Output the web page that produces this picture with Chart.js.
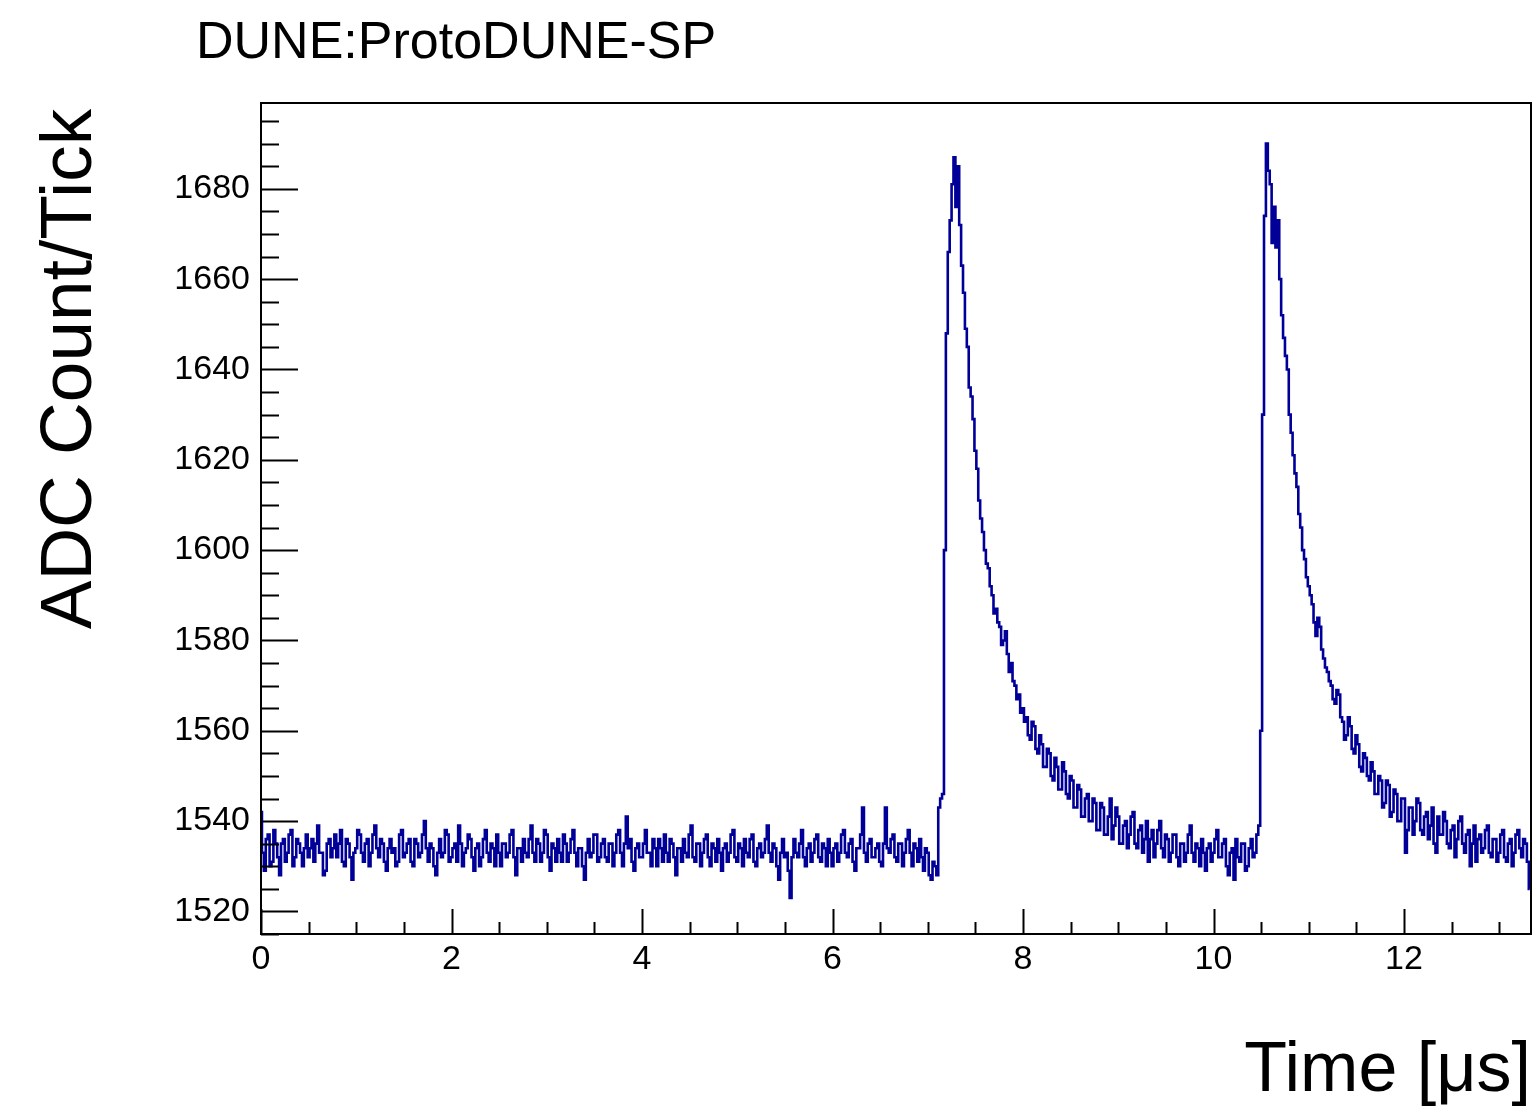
<!DOCTYPE html>
<html>
<head>
<meta charset="utf-8">
<title>ProtoDUNE-SP waveform</title>
<script src="https://cdn.jsdelivr.net/npm/chart.js@4.4.1/dist/chart.umd.min.js"></script>
<style>
  html, body { margin: 0; padding: 0; background: #fff; }
  canvas { display: block; }
</style>
</head>
<body>
<canvas id="wave" width="1533" height="1110"></canvas>
<script>
// sample period of the waveform (microseconds)
const sampleStep = 0.02;

const adcCounts = [
  1542, 1533, 1529, 1536, 1537, 1530, 1531, 1538, 1535, 1532, 1528, 1535, 1536, 1531, 1533, 1537, 1538, 1530, 1532, 1536,
  1535, 1533, 1530, 1534, 1537, 1532, 1534, 1536, 1531, 1535, 1539, 1533, 1533, 1528, 1529, 1535, 1536, 1532, 1534, 1537,
  1532, 1535, 1538, 1531, 1530, 1536, 1535, 1532, 1527, 1533, 1534, 1538, 1537, 1533, 1531, 1535, 1536, 1530, 1533, 1537,
  1539, 1534, 1532, 1536, 1535, 1531, 1529, 1534, 1536, 1533, 1534, 1530, 1531, 1537, 1538, 1532, 1533, 1535, 1536, 1531,
  1530, 1536, 1535, 1532, 1533, 1537, 1540, 1534, 1531, 1535, 1534, 1530, 1528, 1533, 1536, 1532, 1533, 1538, 1537, 1531,
  1532, 1534, 1535, 1531, 1539, 1535, 1530, 1533, 1534, 1537, 1536, 1532, 1529, 1534, 1535, 1530, 1532, 1536, 1538, 1533,
  1531, 1535, 1534, 1530, 1537, 1533, 1530, 1535, 1535, 1532, 1533, 1537, 1538, 1532, 1528, 1534, 1534, 1531, 1536, 1533,
  1532, 1536, 1539, 1533, 1531, 1536, 1535, 1531, 1533, 1538, 1537, 1532, 1529, 1535, 1534, 1531, 1536, 1533, 1531, 1537,
  1535, 1531, 1533, 1536, 1538, 1533, 1530, 1534, 1534, 1530, 1527, 1533, 1536, 1532, 1533, 1537, 1537, 1531, 1532, 1535,
  1536, 1532, 1531, 1535, 1535, 1530, 1533, 1537, 1538, 1533, 1530, 1535, 1541, 1534, 1536, 1531, 1529, 1534, 1535, 1532,
  1532, 1535, 1538, 1533, 1533, 1530, 1536, 1534, 1530, 1536, 1534, 1531, 1537, 1533, 1531, 1536, 1535, 1532, 1528, 1534,
  1534, 1531, 1536, 1533, 1532, 1537, 1539, 1532, 1531, 1535, 1535, 1530, 1533, 1536, 1537, 1532, 1530, 1535, 1534, 1531,
  1536, 1533, 1529, 1534, 1535, 1531, 1533, 1537, 1538, 1532, 1531, 1535, 1534, 1530, 1536, 1533, 1532, 1536, 1537, 1531,
  1530, 1534, 1535, 1532, 1533, 1536, 1539, 1533, 1531, 1535, 1534, 1530, 1527, 1533, 1536, 1532, 1533, 1529, 1523, 1532,
  1536, 1533, 1532, 1535, 1538, 1532, 1530, 1534, 1535, 1531, 1533, 1536, 1537, 1532, 1531, 1535, 1534, 1530, 1536, 1533,
  1530, 1534, 1535, 1531, 1533, 1537, 1538, 1533, 1532, 1535, 1536, 1531, 1529, 1534, 1534, 1537, 1543, 1533, 1531, 1535,
  1536, 1532, 1532, 1534, 1535, 1531, 1530, 1535, 1543, 1534, 1533, 1536, 1537, 1532, 1531, 1535, 1535, 1530, 1533, 1536,
  1538, 1533, 1530, 1535, 1534, 1531, 1536, 1532, 1529, 1534, 1533, 1528, 1527, 1531, 1530, 1528, 1543, 1545, 1546, 1600,
  1648, 1666, 1673, 1681, 1687, 1676, 1685, 1672, 1663, 1657, 1649, 1645, 1636, 1634, 1629, 1622, 1618, 1611, 1607, 1604,
  1600, 1597, 1596, 1592, 1590, 1586, 1587, 1584, 1583, 1579, 1580, 1582, 1577, 1573, 1575, 1571, 1570, 1567, 1568, 1564,
  1565, 1562, 1563, 1559, 1558, 1562, 1561, 1556, 1555, 1559, 1557, 1552, 1552, 1556, 1555, 1550, 1549, 1554, 1552, 1547,
  1547, 1553, 1551, 1546, 1545, 1550, 1549, 1543, 1543, 1548, 1547, 1541, 1541, 1545, 1546, 1540, 1540, 1545, 1544, 1538,
  1538, 1544, 1543, 1537, 1537, 1541, 1545, 1536, 1539, 1543, 1541, 1535, 1535, 1539, 1540, 1534, 1537, 1541, 1542, 1535,
  1534, 1538, 1539, 1533, 1536, 1540, 1531, 1536, 1538, 1532, 1535, 1538, 1540, 1534, 1532, 1537, 1536, 1531, 1533, 1537,
  1537, 1532, 1530, 1535, 1535, 1531, 1533, 1537, 1539, 1533, 1531, 1535, 1534, 1530, 1536, 1533, 1529, 1534, 1535, 1531,
  1533, 1536, 1538, 1532, 1532, 1535, 1536, 1530, 1528, 1533, 1534, 1527, 1536, 1532, 1531, 1535, 1535, 1529, 1530, 1534,
  1536, 1532, 1533, 1537, 1539, 1560, 1630, 1674, 1690, 1684, 1681, 1668, 1676, 1667, 1673, 1660, 1652, 1647, 1643, 1640,
  1630, 1626, 1621, 1617, 1614, 1608, 1605, 1600, 1598, 1594, 1592, 1590, 1588, 1584, 1581, 1585, 1583, 1578, 1576, 1574,
  1573, 1571, 1570, 1567, 1566, 1569, 1568, 1563, 1562, 1558, 1559, 1563, 1561, 1556, 1555, 1559, 1557, 1552, 1551, 1555,
  1554, 1550, 1549, 1553, 1551, 1546, 1546, 1550, 1549, 1543, 1544, 1549, 1548, 1541, 1542, 1547, 1546, 1540, 1540, 1545,
  1545, 1533, 1538, 1543, 1543, 1537, 1540, 1545, 1544, 1538, 1537, 1541, 1542, 1536, 1539, 1543, 1535, 1533, 1541, 1537,
  1537, 1542, 1540, 1535, 1534, 1538, 1539, 1532, 1536, 1540, 1541, 1535, 1533, 1537, 1538, 1530, 1535, 1539, 1531, 1536,
  1537, 1533, 1534, 1538, 1539, 1533, 1532, 1536, 1536, 1531, 1533, 1537, 1538, 1532, 1531, 1535, 1536, 1530, 1533, 1537,
  1538, 1534, 1532, 1536, 1535, 1531, 1525
];

const xTickValues = [0, 2, 4, 6, 8, 10, 12];
const yTickValues = [1520, 1540, 1560, 1580, 1600, 1620, 1640, 1660, 1680];

const xRange = [0, 13.333];
const yRange = [1515, 1699];

const plotTitle = 'DUNE:ProtoDUNE-SP';
const xTitle = 'Time [\u03BCs]';
const yTitle = 'ADC Count/Tick';

const FONT = '"Liberation Sans", Arial, Helvetica, sans-serif';
const LINE_COLOR = '#000099';

const points = adcCounts.map((v, i) => ({ x: i * sampleStep, y: v }));

// ROOT-like frame: box, inward ticks, titles
const rootFrame = {
  id: 'rootFrame',
  afterDraw(chart) {
    const { ctx, chartArea: a, scales } = chart;
    const xs = scales.x, ys = scales.y;
    ctx.save();
    ctx.strokeStyle = '#000';
    ctx.lineWidth = 2;
    ctx.strokeRect(a.left, a.top, a.right - a.left, a.bottom - a.top);

    ctx.beginPath();
    for (let v = yRange[0]; v <= yRange[1]; v += 5) {
      const y = Math.round(ys.getPixelForValue(v)) + 0.5;
      const len = v % 20 === 0 ? 37 : 18;
      ctx.moveTo(a.left, y);
      ctx.lineTo(a.left + len, y);
    }
    for (let v = 0; v <= xRange[1]; v += 0.5) {
      const x = Math.round(xs.getPixelForValue(v)) + 0.5;
      const len = v % 2 === 0 ? 25 : 12;
      ctx.moveTo(x, a.bottom);
      ctx.lineTo(x, a.bottom - len);
    }
    ctx.stroke();

    ctx.fillStyle = '#000';
    ctx.font = '52px ' + FONT;
    ctx.textAlign = 'left';
    ctx.textBaseline = 'alphabetic';
    ctx.fillText(plotTitle, 196, 58);

    ctx.font = '70px ' + FONT;
    ctx.textAlign = 'right';
    ctx.fillText(xTitle, 1531, 1091);

    ctx.translate(91, 369);
    ctx.rotate(-Math.PI / 2);
    ctx.font = '73px ' + FONT;
    ctx.textAlign = 'center';
    ctx.fillText(yTitle, 0, 0);
    ctx.restore();
  }
};

new Chart(document.getElementById('wave'), {
  type: 'line',
  data: {
    datasets: [{
      data: points,
      borderColor: LINE_COLOR,
      borderWidth: 2.6,
      pointRadius: 0,
      stepped: 'middle',
      fill: false
    }]
  },
  options: {
    responsive: false,
    animation: false,
    devicePixelRatio: 1,
    layout: { padding: { left: 0, right: 2, top: 103, bottom: 0 } },
    plugins: {
      legend: { display: false },
      tooltip: { enabled: false }
    },
    scales: {
      x: {
        type: 'linear',
        min: xRange[0],
        max: xRange[1],
        afterFit: (s) => { s.height = 176; },
        afterBuildTicks: (s) => { s.ticks = xTickValues.map(v => ({ value: v })); },
        grid: { display: false, drawTicks: false },
        border: { display: false },
        ticks: {
          color: '#000',
          font: { family: FONT, size: 34 },
          padding: 5,
          maxRotation: 0,
          autoSkip: false,
          callback: (v) => String(v)
        }
      },
      y: {
        type: 'linear',
        min: yRange[0],
        max: yRange[1],
        afterFit: (s) => { s.width = 261; },
        afterBuildTicks: (s) => { s.ticks = yTickValues.map(v => ({ value: v })); },
        grid: { display: false, drawTicks: false },
        border: { display: false },
        ticks: {
          color: '#000',
          font: { family: FONT, size: 34 },
          padding: 11,
          autoSkip: false,
          callback: (v) => String(v)
        }
      }
    }
  },
  plugins: [rootFrame]
});
</script>
</body>
</html>
